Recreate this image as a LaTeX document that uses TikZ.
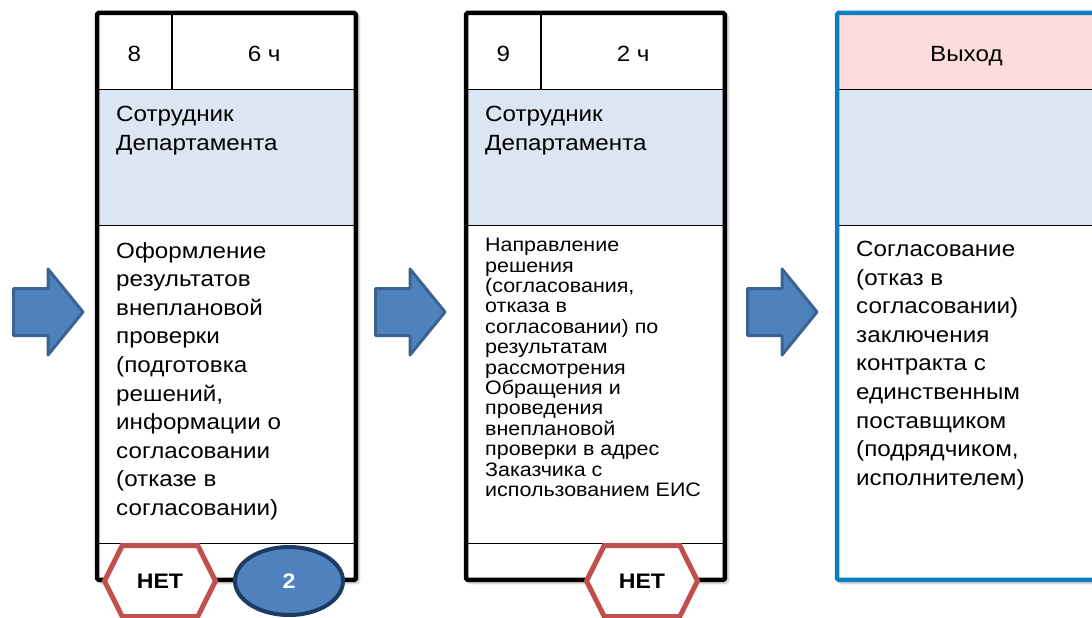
\documentclass[tikz,border=0pt]{standalone}
\usepackage{fontspec}
\setmainfont{Liberation Sans}[FakeStretch=1.1]
\usetikzlibrary{shapes.geometric}
\usetikzlibrary{shapes.symbols}
\usetikzlibrary{positioning}

\definecolor{rolebg}{HTML}{DCE6F2}
\definecolor{headpink}{HTML}{FDDCDC}
\definecolor{arrowfill}{HTML}{4F81BD}
\definecolor{arrowline}{HTML}{3A6392}
\definecolor{nored}{HTML}{C0504D}
\definecolor{countline}{HTML}{1B3B62}
\definecolor{exitblue}{HTML}{0E7EC2}

\begin{document}
\begin{tikzpicture}[x=1pt,y=-1pt,
    cell/.style={draw=black,fill=white,line width=0.8pt,inner sep=0pt,anchor=north west,font=\fontsize{22}{26}\selectfont,text height=20pt,text depth=0pt},
    num cell/.style={cell,minimum width=74,minimum height=76},
    time cell/.style={cell,minimum width=184,minimum height=76},
    head cell/.style={cell,fill=headpink,minimum width=258,minimum height=76},
    role cell/.style={cell,fill=rolebg,minimum width=258,minimum height=136},
    task cell/.style={cell,minimum width=258,minimum height=318},
    foot cell/.style={cell,minimum width=258,minimum height=36},
    card frame/.style={draw=black,line width=4.5pt,rounded corners=1.5pt},
    card shadow/.style={draw=black,fill=black,line width=4.5pt,rounded corners=2pt,opacity=0.15},
    cell text/.style={anchor=north west,align=left,inner sep=0pt,font=\fontsize{22}{28.6}\selectfont},
    small text/.style={anchor=north west,align=left,inner sep=0pt,font=\fontsize{19.5}{20.4}\selectfont},
    no sign/.style={signal,signal to=west and east,signal pointer angle=127,draw=nored,line width=5pt,fill=white,
      minimum width=111,minimum height=71,inner sep=0pt,font=\fontsize{21}{26}\bfseries\selectfont},
    count sign/.style={ellipse,draw=countline,line width=4pt,fill=arrowfill,text=white,
      minimum width=108,minimum height=68,inner sep=0pt,font=\fontsize{21}{26}\bfseries\selectfont},
    step arrow/.style={fill=arrowfill,draw=arrowline,line width=3pt,line join=round}]
  \useasboundingbox (0,0) rectangle (1092,618);

  % shadows behind the cards
  \foreach \cx in {97,466,837}
    \draw[card shadow] (\cx+3,16) rectangle (\cx+261,582);

  % card 8
  \node[num cell] (num1) at (97,13) {8};
  \node[time cell] (time1) at (num1.north east) {6 ч};
  \node[role cell] (role1) at (97,89) {};
  \node[task cell] (task1) at (97,225) {};
  \node[foot cell] (foot1) at (97,543) {};
  \draw[card frame] (num1.north west) rectangle (foot1.south east);
  \node[cell text] (role1 text) at (116,106) {Сотрудник\\Департамента};
  \node[cell text] (task1 text) at (116,242) {Оформление\\результатов\\внеплановой\\проверки\\(подготовка\\решений,\\информации о\\согласовании\\(отказе в\\согласовании)};

  % card 9
  \node[num cell] (num2) at (466,13) {9};
  \node[time cell] (time2) at (num2.north east) {2 ч};
  \node[role cell] (role2) at (466,89) {};
  \node[task cell] (task2) at (466,225) {};
  \node[foot cell] (foot2) at (466,543) {};
  \draw[card frame] (num2.north west) rectangle (foot2.south east);
  \node[cell text] (role2 text) at (485,106) {Сотрудник\\Департамента};
  \node[small text] (task2 text) at (485,238) {Направление\\решения\\(согласования,\\отказа в\\согласовании) по\\результатам\\рассмотрения\\Обращения и\\проведения\\внеплановой\\проверки в адрес\\Заказчика с\\использованием ЕИС};

  % exit card
  \node[head cell] (head3) at (837,13) {Выход};
  \node[role cell] (role3) at (837,89) {};
  \node[task cell,minimum height=354] (task3) at (837,225) {};
  \draw[card frame,draw=exitblue] (head3.north west) rectangle (task3.south east);
  \node[cell text] (task3 text) at (856,241) {Согласование\\(отказ в\\согласовании)\\заключения\\контракта с\\единственным\\поставщиком\\(подрядчиком,\\исполнителем)};

  % badges
  \node[no sign] (no1) at (160,581) {НЕТ};
  \node[count sign] (count1) at (289,581) {2};
  \node[no sign] (no2) at (642,581) {НЕТ};

  % block arrows
  \foreach \dx in {0,362,734}
    \draw[step arrow,xshift=\dx pt] (13.5,288.5) -- (48,288.5) -- (48,269) -- (83,312)
      -- (48,355) -- (48,335.5) -- (13.5,335.5) -- cycle;
\end{tikzpicture}
\end{document}
